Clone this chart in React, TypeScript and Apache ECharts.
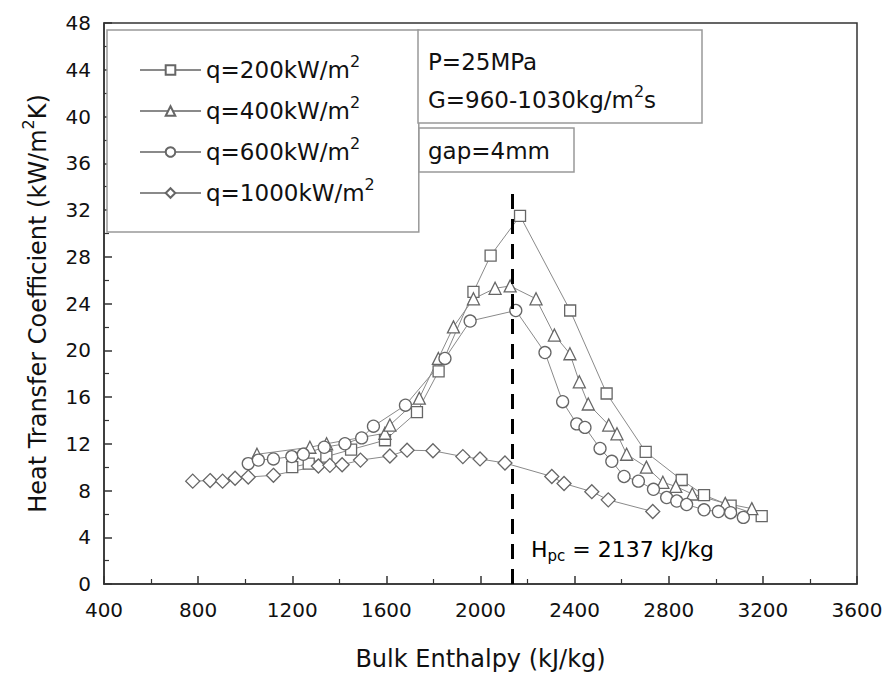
import React, { useEffect, useRef } from 'react';
import * as echarts from 'echarts';

const FONT = 'DejaVu Sans';

// x-axis / y-axis ticks
const xMin = 400, xMax = 3600, xStep = 400;
const yMin = 0, yMax = 48, yStep = 4;

// q = 200 kW/m2 (squares)
const q200X = [1200, 1270, 1345, 1450, 1594, 1730, 1822, 1970, 2043, 2168, 2381, 2536, 2702, 2855, 2950, 3063, 3195];
const q200Y = [10.0, 10.3, 10.9, 11.5, 12.3, 14.7, 18.2, 25.0, 28.1, 31.5, 23.4, 16.3, 11.3, 8.9, 7.6, 6.7, 5.8];

// q = 400 kW/m2 (triangles)
const q400X = [1050, 1275, 1346, 1594, 1615, 1740, 1821, 1885, 1970, 2062, 2126, 2236, 2314, 2380, 2420, 2458, 2545, 2580, 2621, 2705, 2775, 2830, 2900, 3040, 3153];
const q400Y = [11.1, 11.7, 12.0, 12.9, 13.6, 15.9, 19.3, 22.0, 24.4, 25.3, 25.5, 24.4, 21.3, 19.7, 17.3, 15.4, 13.6, 12.85, 11.1, 10.0, 8.7, 8.35, 7.7, 6.9, 6.45];

// q = 600 kW/m2 (circles)
const q600X = [1013, 1056, 1120, 1198, 1247, 1336, 1424, 1495, 1545, 1681, 1849, 1956, 2150, 2274, 2349, 2409, 2444, 2508, 2558, 2610, 2671, 2735, 2791, 2834, 2876, 2950, 3011, 3063, 3117];
const q600Y = [10.3, 10.6, 10.7, 10.9, 11.1, 11.7, 12.0, 12.5, 13.5, 15.3, 19.3, 22.5, 23.4, 19.8, 15.6, 13.7, 13.4, 11.6, 10.5, 9.2, 8.8, 8.1, 7.4, 7.1, 6.8, 6.35, 6.2, 6.1, 5.7];

// q = 1000 kW/m2 (diamonds)
const q1000X = [777, 851, 904, 957, 1013, 1120, 1311, 1360, 1412, 1490, 1615, 1688, 1798, 1925, 1998, 2104, 2303, 2355, 2473, 2543, 2732];
const q1000Y = [8.8, 8.85, 8.8, 9.05, 9.15, 9.3, 10.1, 10.15, 10.2, 10.6, 10.95, 11.45, 11.4, 10.9, 10.7, 10.35, 9.2, 8.6, 7.9, 7.2, 6.2];

const seriesNames = ['q=200kW/m2', 'q=400kW/m2', 'q=600kW/m2', 'q=1000kW/m2'];
const seriesSymbols = ['rect', 'triangle', 'circle', 'diamond'];
const seriesSizes = [11, 12, 12, 14];

// pseudo-critical enthalpy marker
const hpc = 2137;
const hpcTop = 34.2;

const zip = (xs: number[], ys: number[]) => xs.map((x, i) => [x, ys[i]]);

const supRich = {
  sup: { fontSize: 16, lineHeight: 8, padding: [0, 0, 18, 0], fontFamily: FONT, color: '#111' },
};

export default function App() {
  const ref = useRef<HTMLDivElement>(null);
  useEffect(() => {
    if (!ref.current) return;
    const chart = echarts.init(ref.current, undefined, { renderer: 'svg' });
    const data = [zip(q200X, q200Y), zip(q400X, q400Y), zip(q600X, q600Y), zip(q1000X, q1000Y)];
    const series: any[] = data.map((d, i) => ({
      type: 'line',
      name: seriesNames[i],
      data: d,
      symbol: seriesSymbols[i],
      symbolSize: seriesSizes[i],
      showAllSymbol: true,
      lineStyle: { color: '#8a8a8a', width: 1 },
      itemStyle: { color: '#ffffff', borderColor: '#666', borderWidth: 1.3 },
      z: 3,
    }));
    series[0].markLine = {
      silent: true,
      symbol: 'none',
      label: { show: false },
      lineStyle: { color: '#000', type: [15, 10], width: 3 },
      data: [[{ coord: [hpc, 0] }, { coord: [hpc, hpcTop] }]],
    };
    const option: any = {
      animation: false,
      backgroundColor: '#fff',
      textStyle: { fontFamily: FONT },
      grid: { left: 104, top: 23, right: 32, bottom: 89, show: true, borderColor: '#333', borderWidth: 1.5 },
      xAxis: {
        type: 'value', min: xMin, max: xMax, interval: xStep,
        axisLine: { show: true, lineStyle: { color: '#333', width: 1.5 } },
        axisTick: { inside: true, length: 8, lineStyle: { color: '#333', width: 1.5 } },
        minorTick: { show: true, splitNumber: 2, length: 5, lineStyle: { color: '#333', width: 1.2 } },
        splitLine: { show: false },
        axisLabel: { margin: 16, fontSize: 20, color: '#111', fontFamily: FONT, formatter: (v: number) => String(v) },
        name: 'Bulk Enthalpy (kJ/kg)', nameLocation: 'middle', nameGap: 63,
        nameTextStyle: { fontSize: 24, color: '#111', fontFamily: FONT },
      },
      yAxis: {
        type: 'value', min: yMin, max: yMax, interval: yStep,
        axisLine: { show: true, lineStyle: { color: '#333', width: 1.5 } },
        axisTick: { inside: true, length: 8, lineStyle: { color: '#333', width: 1.5 } },
        minorTick: { show: true, splitNumber: 2, length: 5, lineStyle: { color: '#333', width: 1.2 } },
        splitLine: { show: false },
        axisLabel: { margin: 13, fontSize: 20, color: '#111', fontFamily: FONT, formatter: (v: number) => String(v) },
        name: 'Heat Transfer Coefficient (kW/m{sup|2}K)', nameLocation: 'middle', nameGap: 50,
        nameTextStyle: { fontSize: 24, color: '#111', fontFamily: FONT, lineHeight: 28, rich: supRich },
      },
      legend: {
        orient: 'vertical', left: 107, top: 30,
        padding: [23, 44, 22, 32], itemGap: 7, itemWidth: 61, itemHeight: 12,
        borderColor: '#999', borderWidth: 1.5, backgroundColor: '#fff',
        selectedMode: false,
        textStyle: { fontSize: 23, color: '#111', fontFamily: FONT, lineHeight: 28, rich: supRich },
        formatter: (n: string) => n.replace(/m2$/, 'm{sup|2}'),
        data: seriesNames,
      },
      graphic: [
        { type: 'rect', shape: { x: 418, y: 30, width: 284, height: 93 }, style: { fill: '#fff', stroke: '#999', lineWidth: 1.5 }, z: 10 },
        { type: 'text', x: 428, y: 62, style: { text: 'P=25MPa', fontSize: 23, fontFamily: FONT, fill: '#111', verticalAlign: 'middle' }, z: 11 },
        { type: 'text', x: 428, y: 100, style: { text: 'G=960-1030kg/m{sup|2}s', fontSize: 23, fontFamily: FONT, fill: '#111', verticalAlign: 'middle', lineHeight: 28, rich: supRich }, z: 11 },
        { type: 'rect', shape: { x: 419, y: 128, width: 155, height: 44 }, style: { fill: '#fff', stroke: '#999', lineWidth: 1.5 }, z: 10 },
        { type: 'text', x: 428, y: 151, style: { text: 'gap=4mm', fontSize: 23, fontFamily: FONT, fill: '#111', verticalAlign: 'middle' }, z: 11 },
        {
          type: 'text', x: 531, y: 549, z: 11,
          style: {
            text: '{m|H}{sub|pc}{m| = 2137 kJ/kg}', fontSize: 22, fontFamily: FONT, fill: '#000', verticalAlign: 'middle',
            rich: {
              m: { fontSize: 22, lineHeight: 24, fontFamily: FONT, color: '#000' },
              sub: { fontSize: 15, lineHeight: 4, padding: [14, 0, 0, 0], fontFamily: FONT, color: '#000' },
            },
          },
        },
      ],
      series,
    };
    chart.setOption(option);
    return () => chart.dispose();
  }, []);
  return <div ref={ref} style={{ position: 'fixed', left: 0, top: 0, width: 889, height: 676, background: '#fff' }} />;
}
